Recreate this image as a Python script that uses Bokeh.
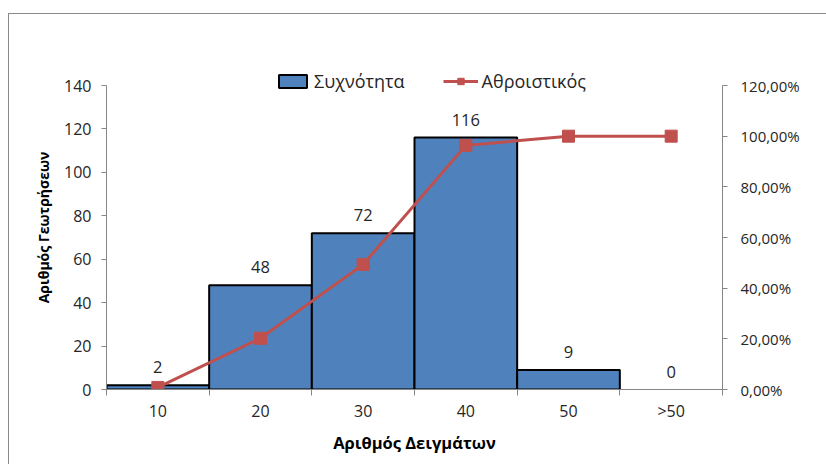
from bokeh.plotting import figure
from bokeh.models import (Range1d, LinearAxis, FixedTicker, Legend, LegendItem,
                          ColumnDataSource)
from bokeh.core.properties import value
from bokeh.embed import file_html
from bokeh.resources import INLINE

# Histogram of sample counts with cumulative share
categories = ["10", "20", "30", "40", "50", ">50"]
frequency = [2, 48, 72, 116, 9, 0]
cumulative_pct = [0.81, 20.24, 49.39, 96.36, 100.0, 100.0]
left_ticks = [0, 20, 40, 60, 80, 100, 120, 140]
right_ticks = [0, 20, 40, 60, 80, 100, 120]
right_tick_labels = ["0,00%", "20,00%", "40,00%", "60,00%", "80,00%", "100,00%", "120,00%"]
left_max, right_max = 140, 120

FONT = "Open Sans"
BAR = "#4F81BD"
LINE = "#C0504D"
AXIS = "#868686"
TEXT = "#262626"
EDGE = "#8a8a8a"

# plot frame geometry (px); the frame reaches above the axes' top so the
# legend, which straddles the axes' top edge, is not clipped
TOP_PAD = 20
AXES_H = 304
head = (AXES_H + TOP_PAD) / AXES_H

xs = list(range(1, len(categories) + 1))
src = ColumnDataSource(dict(x=xs, freq=frequency, pct=cumulative_pct,
                            lab=[str(v) for v in frequency]))
bar_src = ColumnDataSource(dict(x=[x for x, f in zip(xs, frequency) if f > 0],
                                freq=[f for f in frequency if f > 0]))

# chart-area edge (top and left) painted behind a transparent canvas
edge_css = (f"linear-gradient({EDGE},{EDGE}) 8px 13px / 1px 100% no-repeat, "
            f"linear-gradient({EDGE},{EDGE}) 8px 13px / 100% 1px no-repeat, white")

p = figure(width=826, height=464, output_backend="svg", toolbar_location=None,
           x_range=Range1d(0.5, len(categories) + 0.5),
           y_range=Range1d(0, left_max * head),
           min_border_left=106, min_border_right=104, min_border_top=85 - TOP_PAD,
           min_border_bottom=75, styles={"background": edge_css})
p.background_fill_color = None
p.border_fill_color = None
p.outline_line_color = None
p.grid.visible = False
p.xaxis.visible = False
p.yaxis.visible = False

p.extra_y_ranges = {"pct": Range1d(0, right_max * head)}

bars = p.vbar(x="x", top="freq", width=1.0, source=bar_src, fill_color=BAR,
              line_color="black", line_width=2)
line = p.line(x="x", y="pct", source=src, y_range_name="pct", line_color=LINE,
              line_width=3)
pts = p.scatter(x="x", y="pct", source=src, y_range_name="pct", marker="square",
                size=12, fill_color=LINE, line_color=LINE)

p.text(x="x", y="freq", text="lab", source=src, text_align="center",
       text_baseline="bottom", y_offset=-12, text_font=value(FONT),
       text_font_size="16.5px", text_color=TEXT)

def style(ax, size="16px"):
    ax.axis_line_color = AXIS
    ax.major_tick_line_color = AXIS
    ax.minor_tick_line_color = AXIS
    ax.major_tick_in = 0
    ax.major_tick_out = 5
    ax.major_label_text_font = FONT
    ax.major_label_text_font_size = size
    ax.major_label_text_color = TEXT
    ax.axis_label_text_font = FONT
    ax.axis_label_text_font_style = "bold"
    ax.axis_label_text_color = "black"

# bottom axis: labels at bar centres, ticks at bar edges
xb = LinearAxis(ticker=FixedTicker(ticks=xs, minor_ticks=[x - 0.5 for x in xs] + [xs[-1] + 0.5]),
                major_label_overrides={x: c for x, c in zip(xs, categories)},
                axis_label="Αριθμός Δειγμάτων")
style(xb)
xb.axis_label_text_font_size = "16.5px"
xb.major_tick_out = 0
xb.minor_tick_in = 0
xb.minor_tick_out = 6
xb.major_label_standoff = 4
xb.axis_label_standoff = 6
p.add_layout(xb, "below")

yl = LinearAxis(ticker=FixedTicker(ticks=left_ticks, minor_ticks=[]),
                bounds=(0, left_max), axis_label="Αριθμός Γεωτρήσεων")
style(yl)
yl.axis_label_text_font_size = "14px"
yl.major_label_standoff = 10
yl.axis_label_standoff = 8
p.add_layout(yl, "left")

yr = LinearAxis(y_range_name="pct", ticker=FixedTicker(ticks=right_ticks, minor_ticks=[]),
                bounds=(0, right_max),
                major_label_overrides={t: l for t, l in zip(right_ticks, right_tick_labels)})
style(yr, "15px")
yr.major_label_standoff = 13
p.add_layout(yr, "right")

legend = Legend(items=[LegendItem(label="Συχνότητα", renderers=[bars]),
                       LegendItem(label="Αθροιστικός", renderers=[line, pts])],
                orientation="horizontal", location=(169, 296), padding=0, margin=0,
                spacing=38, glyph_width=35, glyph_height=16, label_standoff=4,
                label_text_font=FONT, label_text_font_size="18px",
                label_text_color=TEXT, border_line_color=None,
                background_fill_alpha=0)
p.add_layout(legend, "center")

open("out.html", "w").write(file_html(p, INLINE))
